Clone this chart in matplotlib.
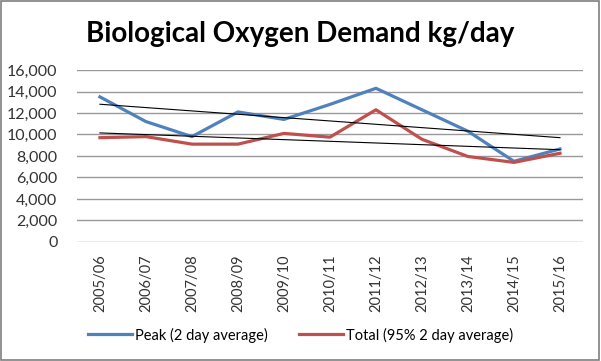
import numpy as np
import matplotlib.pyplot as plt
from matplotlib.patches import Rectangle
from matplotlib.ticker import FuncFormatter

years = ["2005/06", "2006/07", "2007/08", "2008/09", "2009/10", "2010/11",
         "2011/12", "2012/13", "2013/14", "2014/15", "2015/16"]
peak = [13500, 11200, 9800, 12100, 11400, 12800, 14300, 12300, 10300, 7500, 8650]
total = [9700, 9800, 9100, 9100, 10100, 9750, 12300, 9550, 7950, 7400, 8250]

plt.rcParams['font.family'] = ['Lato', 'DejaVu Sans']

fig = plt.figure(figsize=(6.01, 3.61), dpi=100)
ax = fig.add_axes([0.128, 0.330, 0.842, 0.476])

x = np.arange(len(years))
ax.plot(x, peak, color='#4f81bd', lw=2.3, label='Peak (2 day average)', zorder=3)
ax.plot(x, total, color='#c0504d', lw=2.3, label='Total (95% 2 day average)', zorder=3)

# linear trendlines
for s in (peak, total):
    k, b = np.polyfit(x, s, 1)
    ax.plot(x, k * x + b, color='black', lw=0.8, zorder=4)

ax.set_xlim(-0.5, len(years) - 0.5)
ax.set_ylim(0, 16000)
ax.set_yticks(range(0, 16001, 2000))
ax.yaxis.set_major_formatter(FuncFormatter(lambda v, p: f"{int(v):,}"))
ax.set_xticks(x)
ax.set_xticklabels(years, rotation=90)
ax.tick_params(length=0, colors='#333333')
ax.tick_params(axis='y', pad=14, labelsize=11.5)
ax.tick_params(axis='x', pad=9, labelsize=10.5)
ax.grid(axis='y', color='#999999', lw=1)
ax.set_axisbelow(True)
for sp in ax.spines.values():
    sp.set_visible(False)

fig.text(0.5, 0.905, "Biological Oxygen Demand kg/day", ha='center', va='center',
         fontsize=20, fontweight='bold')

fig.legend(loc='center', bbox_to_anchor=(0.5, 0.072), ncol=2, frameon=False,
           fontsize=10.5, handlelength=3.0, handletextpad=0.2, columnspacing=2.2)

fig.patches.append(Rectangle((0.002, 0.004), 0.995, 0.992, transform=fig.transFigure,
                             fill=False, edgecolor='#7f7f7f', lw=1.2))

fig.savefig("out.png", dpi=100)
